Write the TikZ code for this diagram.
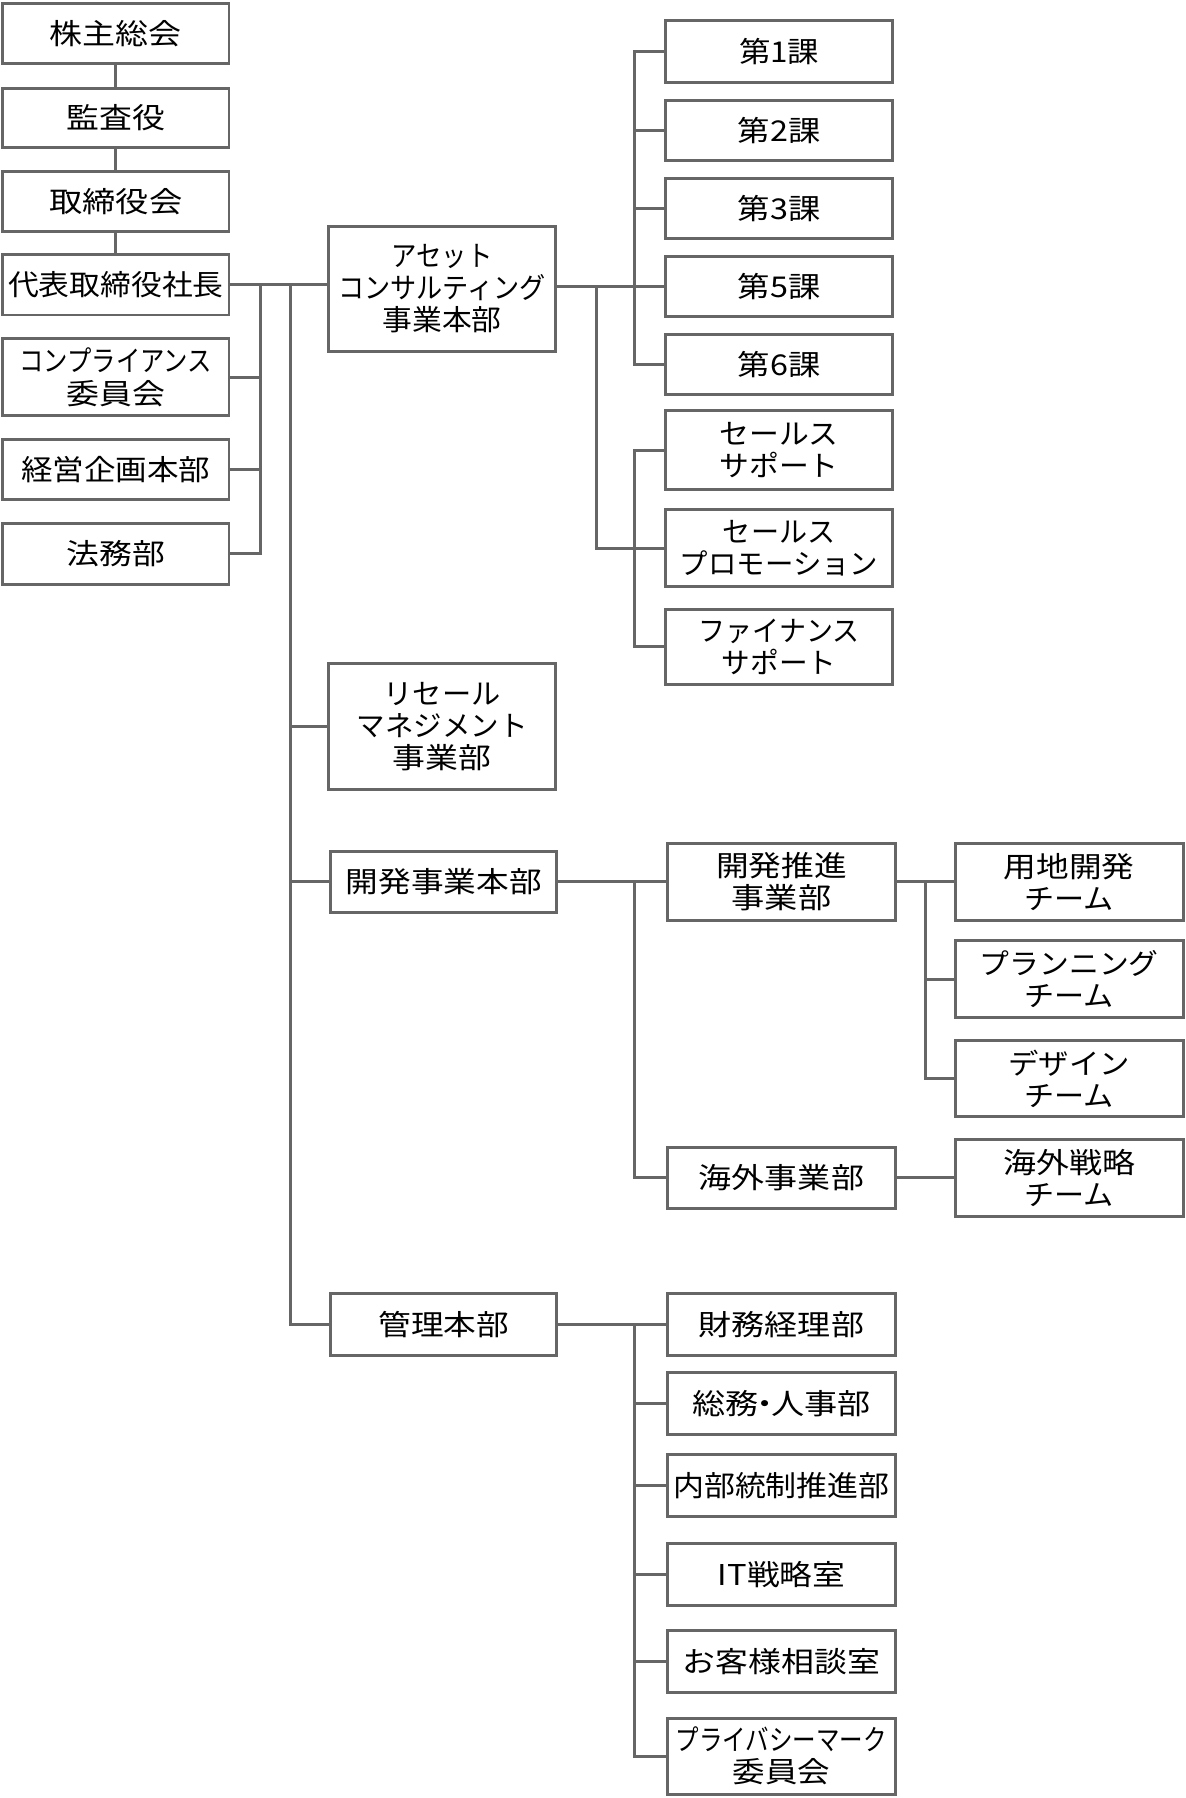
\documentclass[tikz,border=0pt]{standalone}
\usepackage{fontspec}
\setmainfont{Noto Sans CJK JP}
\usepackage{graphicx}
\definecolor{ln}{HTML}{666666}
\newcommand{\hw}[2]{\resizebox{#1pt}{\height}{#2}}
\newcommand{\bx}[6]{\node[box, minimum width={#4-#2-2.6}, minimum height={#5-#3-2.6}] (#1) at ({(#2+#4)/2},{(#3+#5)/2}) {#6};}
\begin{document}
\begin{tikzpicture}[x=1pt,y=-1pt,
  box/.style={draw=ln, line width=2.6pt, inner sep=0pt, fill=white, align=center, font=\fontsize{25}{28}\selectfont},
  conn/.style={draw=ln, line width=2.6pt}]
\useasboundingbox (0,0) rectangle (1034,1568);
\fill[white] (0,0) rectangle (1034,1568);
% bus x positions
\coordinate (xs) at (227,0);
\coordinate (xt) at (253,0);
\coordinate (xa) at (520,0);
\coordinate (xk) at (553,0);
\coordinate (xd) at (807,0);
% left column
\bx{b1}{1}{2}{201}{57}{\hw{115}{株主総会}}
\bx{b2}{1}{76}{201}{130}{\hw{86}{監査役}}
\bx{b3}{1}{148}{201}{203}{\hw{116}{取締役会}}
\bx{ceo}{1}{221}{201}{276}{\hw{188}{代表取締役社長}}
\bx{comp}{1}{294}{201}{364}{\hw{168}{コンプライアンス}\\\hw{86}{委員会}}
\bx{plan}{1}{382}{201}{437}{\hw{165}{経営企画本部}}
\bx{legal}{1}{455}{201}{511}{\hw{86}{法務部}}
% second column
\bx{asset}{285}{196}{486}{308}{\hw{88}{アセット}\\\hw{181}{コンサルティング}\\\hw{104}{事業本部}}
\bx{resale}{285}{577}{486}{690}{\hw{102}{リセール}\\\hw{149}{マネジメント}\\\hw{86}{事業部}}
\bx{kaihatsu}{287}{741}{487}{797}{\hw{171}{開発事業本部}}
\bx{kanri}{287}{1127}{487}{1183}{\hw{114}{管理本部}}
% asset children
\bx{k1}{579}{17}{780}{73}{\hw{70}{第1課}}
\bx{k2}{579}{86}{780}{141}{\hw{72}{第2課}}
\bx{k3}{579}{154}{780}{209}{\hw{72}{第3課}}
\bx{k5}{579}{222}{780}{277}{\hw{72}{第5課}}
\bx{k6}{579}{290}{780}{345}{\hw{72}{第6課}}
\bx{ss}{579}{357}{780}{428}{\hw{104}{セールス}\\\hw{104}{サポート}}
\bx{sp}{579}{443}{780}{513}{\hw{98}{セールス}\\\hw{173}{プロモーション}}
\bx{fs}{579}{530}{780}{598}{\hw{140}{ファイナンス}\\\hw{100}{サポート}}
% kaihatsu children
\bx{suishin}{581}{734}{782}{804}{\hw{114}{開発推進}\\\hw{87}{事業部}}
\bx{kaigai}{581}{999}{782}{1055}{\hw{144}{海外事業部}}
\bx{yochi}{832}{734}{1033}{804}{\hw{114}{用地開発}\\\hw{78}{チーム}}
\bx{planning}{832}{819}{1033}{889}{\hw{156}{プランニング}\\\hw{78}{チーム}}
\bx{design}{832}{906}{1033}{975}{\hw{106}{デザイン}\\\hw{78}{チーム}}
\bx{senryaku}{832}{992}{1033}{1062}{\hw{115}{海外戦略}\\\hw{78}{チーム}}
% kanri children
\bx{zaimu}{581}{1127}{782}{1183}{\hw{144}{財務経理部}}
\bx{soumu}{581}{1196}{782}{1252}{\hw{156}{総務\kern-0.3em・\kern-0.3em人事部}}
\bx{naibu}{581}{1267}{782}{1324}{\hw{189}{内部統制推進部}}
\bx{it}{581}{1345}{782}{1401}{\hw{111}{IT戦略室}}
\bx{okyaku}{581}{1421}{782}{1477}{\hw{172}{お客様相談室}}
\bx{pm}{581}{1497}{782}{1566}{\hw{184}{プライバシーマーク}\\\hw{85}{委員会}}
% connectors: top chain
\draw[conn] (b1.south) -- (b2.north);
\draw[conn] (b2.south) -- (b3.north);
\draw[conn] (b3.south) -- (ceo.north);
\draw[conn] (ceo.east) -- (ceo.east -| asset.west);
% staff bus
\draw[conn] (ceo.east -| xs) |- (legal.east);
\draw[conn] (comp.east) -- (comp.east -| xs);
\draw[conn] (plan.east) -- (plan.east -| xs);
% trunk
\draw[conn] (ceo.east -| xt) |- (kanri.west);
\draw[conn] (resale.west -| xt) -- (resale.west);
\draw[conn] (kaihatsu.west -| xt) -- (kaihatsu.west);
% asset
\draw[conn] (asset.east |- k5.west) -- (k5.west);
\draw[conn] (k1.west) -| (k6.west -| xk) -- (k6.west);
\draw[conn] (k2.west -| xk) -- (k2.west);
\draw[conn] (k3.west -| xk) -- (k3.west);
\draw[conn] (k5.west -| xa) |- (sp.west);
\draw[conn] (ss.west) -| (fs.west -| xk) -- (fs.west);
% kaihatsu
\draw[conn] (kaihatsu.east) -- (kaihatsu.east -| suishin.west);
\draw[conn] (suishin.west -| xk) |- (kaigai.west);
\draw[conn] (suishin.east) -- (suishin.east -| yochi.west);
\draw[conn] (yochi.west -| xd) |- (design.west);
\draw[conn] (planning.west -| xd) -- (planning.west);
\draw[conn] (kaigai.east) -- (kaigai.east -| senryaku.west);
% kanri
\draw[conn] (kanri.east) -- (zaimu.west);
\draw[conn] (zaimu.west -| xk) |- (pm.west);
\draw[conn] (soumu.west -| xk) -- (soumu.west);
\draw[conn] (naibu.west -| xk) -- (naibu.west);
\draw[conn] (it.west -| xk) -- (it.west);
\draw[conn] (okyaku.west -| xk) -- (okyaku.west);
\end{tikzpicture}
\end{document}
